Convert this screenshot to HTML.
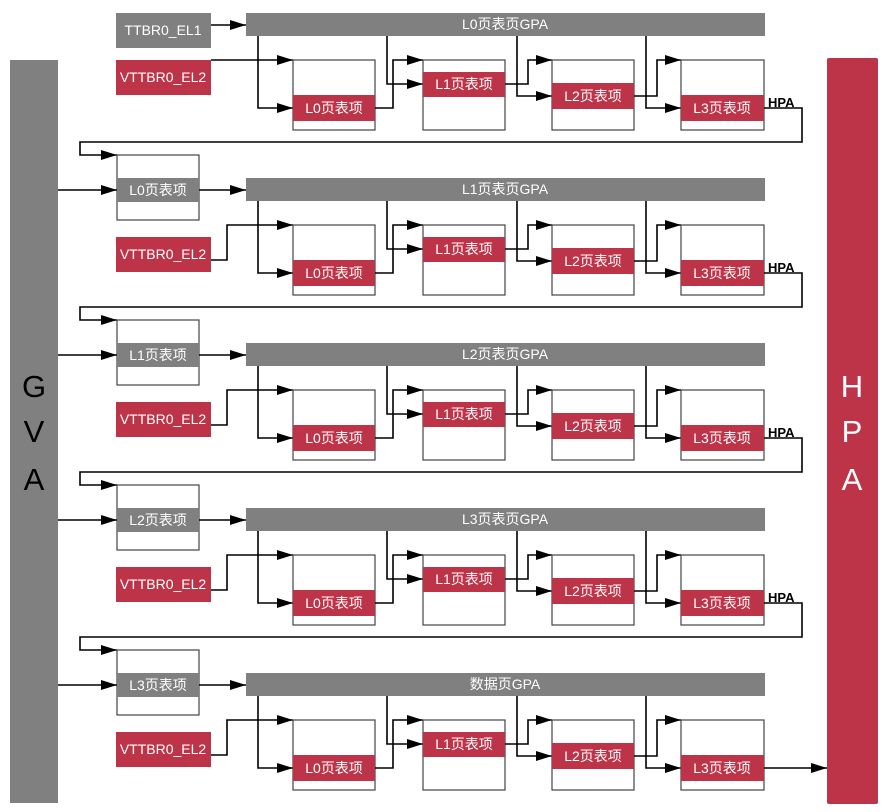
<!DOCTYPE html>
<html><head><meta charset="utf-8"><style>
html,body{margin:0;padding:0;background:#fff;}
svg{display:block;}
text{font-family:"Liberation Sans","Noto Sans CJK SC",sans-serif;}
.w{fill:#fff;font-size:14px;text-anchor:middle;}
.ln{fill:none;stroke:#000;stroke-width:1.6;}
.bx{fill:#fff;stroke:#444;stroke-width:1.2;}
.g{fill:#808080;}
.r{fill:#bd3449;}
</style></head><body>
<svg width="895" height="812" viewBox="0 0 895 812" xmlns="http://www.w3.org/2000/svg">
<defs>
<marker id="a" markerWidth="16" markerHeight="10" refX="16" refY="5" orient="auto" markerUnits="userSpaceOnUse">
<polygon points="0,0 16,5 0,10" fill="#000"/>
</marker>
</defs>
<rect x="10" y="60" width="48" height="743" class="g"/>
<text x="34" y="397" font-size="31" text-anchor="middle" fill="#000">G</text>
<text x="34" y="442" font-size="31" text-anchor="middle" fill="#000">V</text>
<text x="34" y="490" font-size="31" text-anchor="middle" fill="#000">A</text>
<rect x="827" y="58" width="51" height="746" rx="2" class="r"/>
<text x="852" y="397" font-size="31" text-anchor="middle" fill="#fff">H</text>
<text x="852" y="442" font-size="31" text-anchor="middle" fill="#fff">P</text>
<text x="852" y="490" font-size="31" text-anchor="middle" fill="#fff">A</text>

<g>
<rect x="116" y="13" width="95" height="35" class="g"/>
<text x="163" y="35" class="w">TTBR0_EL1</text>
<path d="M211,25 H246" class="ln" marker-end="url(#a)"/>
<rect x="116" y="60" width="95" height="35" class="r"/>
<text x="163" y="82" class="w">VTTBR0_EL2</text>
<path d="M211,60 H293" class="ln" marker-end="url(#a)"/>
</g>

<g transform="translate(0,0)">
<rect x="246" y="13" width="519" height="23" class="g"/><text x="505" y="29" class="w">L0页表页GPA</text>
<path d="M258,36 V108 H293" class="ln" marker-end="url(#a)"/>
<rect x="293" y="60" width="82" height="70" class="bx"/><rect x="293" y="95" width="82" height="26" class="r"/><text x="334" y="113" class="w">L0页表项</text>
<path d="M375,108 H393 V60 H423" class="ln" marker-end="url(#a)"/>
<path d="M387,36 V84 H423" class="ln" marker-end="url(#a)"/>
<rect x="423" y="60" width="82" height="70" class="bx"/><rect x="423" y="72" width="82" height="25" class="r"/><text x="464" y="89" class="w">L1页表项</text>
<path d="M505,84 H528 V60 H552" class="ln" marker-end="url(#a)"/>
<path d="M517,36 V96 H552" class="ln" marker-end="url(#a)"/>
<rect x="552" y="60" width="82" height="70" class="bx"/><rect x="552" y="83" width="82" height="26" class="r"/><text x="593" y="101" class="w">L2页表项</text>
<path d="M634,96 H657 V60 H681" class="ln" marker-end="url(#a)"/>
<path d="M646,36 V108 H681" class="ln" marker-end="url(#a)"/>
<rect x="681" y="60" width="83" height="70" class="bx"/><rect x="681" y="95" width="83" height="26" class="r"/><text x="722" y="113" class="w">L3页表项</text>
<path d="M764,108 H802 V142 H80 V155 H117" class="ln" marker-end="url(#a)"/>
<text x="768" y="107" font-size="13" font-weight="bold" fill="#000">HPA</text>
</g>

<g transform="translate(0,165)">
<rect x="117" y="-10" width="82" height="65" class="bx"/><rect x="117" y="13" width="82" height="24" class="g"/><text x="158" y="30" class="w">L0页表项</text>
<path d="M58,25 H117" class="ln" marker-end="url(#a)"/><path d="M199,25 H246" class="ln" marker-end="url(#a)"/>
<rect x="116" y="72" width="95" height="35" class="r"/><text x="163" y="94" class="w">VTTBR0_EL2</text>
<path d="M211,95 H227 V60 H293" class="ln" marker-end="url(#a)"/>
<rect x="246" y="13" width="519" height="23" class="g"/><text x="505" y="29" class="w">L1页表页GPA</text>
<path d="M258,36 V108 H293" class="ln" marker-end="url(#a)"/>
<rect x="293" y="60" width="82" height="70" class="bx"/><rect x="293" y="95" width="82" height="26" class="r"/><text x="334" y="113" class="w">L0页表项</text>
<path d="M375,108 H393 V60 H423" class="ln" marker-end="url(#a)"/><path d="M387,36 V84 H423" class="ln" marker-end="url(#a)"/>
<rect x="423" y="60" width="82" height="70" class="bx"/><rect x="423" y="72" width="82" height="25" class="r"/><text x="464" y="89" class="w">L1页表项</text>
<path d="M505,84 H528 V60 H552" class="ln" marker-end="url(#a)"/><path d="M517,36 V96 H552" class="ln" marker-end="url(#a)"/>
<rect x="552" y="60" width="82" height="70" class="bx"/><rect x="552" y="83" width="82" height="26" class="r"/><text x="593" y="101" class="w">L2页表项</text>
<path d="M634,96 H657 V60 H681" class="ln" marker-end="url(#a)"/><path d="M646,36 V108 H681" class="ln" marker-end="url(#a)"/>
<rect x="681" y="60" width="83" height="70" class="bx"/><rect x="681" y="95" width="83" height="26" class="r"/><text x="722" y="113" class="w">L3页表项</text>
<path d="M764,108 H802 V142 H80 V155 H117" class="ln" marker-end="url(#a)"/>
<text x="768" y="107" font-size="13" font-weight="bold" fill="#000">HPA</text>
</g>

<g transform="translate(0,330)">
<rect x="117" y="-10" width="82" height="65" class="bx"/><rect x="117" y="13" width="82" height="24" class="g"/><text x="158" y="30" class="w">L1页表项</text>
<path d="M58,25 H117" class="ln" marker-end="url(#a)"/><path d="M199,25 H246" class="ln" marker-end="url(#a)"/>
<rect x="116" y="72" width="95" height="35" class="r"/><text x="163" y="94" class="w">VTTBR0_EL2</text>
<path d="M211,95 H227 V60 H293" class="ln" marker-end="url(#a)"/>
<rect x="246" y="13" width="519" height="23" class="g"/><text x="505" y="29" class="w">L2页表页GPA</text>
<path d="M258,36 V108 H293" class="ln" marker-end="url(#a)"/>
<rect x="293" y="60" width="82" height="70" class="bx"/><rect x="293" y="95" width="82" height="26" class="r"/><text x="334" y="113" class="w">L0页表项</text>
<path d="M375,108 H393 V60 H423" class="ln" marker-end="url(#a)"/><path d="M387,36 V84 H423" class="ln" marker-end="url(#a)"/>
<rect x="423" y="60" width="82" height="70" class="bx"/><rect x="423" y="72" width="82" height="25" class="r"/><text x="464" y="89" class="w">L1页表项</text>
<path d="M505,84 H528 V60 H552" class="ln" marker-end="url(#a)"/><path d="M517,36 V96 H552" class="ln" marker-end="url(#a)"/>
<rect x="552" y="60" width="82" height="70" class="bx"/><rect x="552" y="83" width="82" height="26" class="r"/><text x="593" y="101" class="w">L2页表项</text>
<path d="M634,96 H657 V60 H681" class="ln" marker-end="url(#a)"/><path d="M646,36 V108 H681" class="ln" marker-end="url(#a)"/>
<rect x="681" y="60" width="83" height="70" class="bx"/><rect x="681" y="95" width="83" height="26" class="r"/><text x="722" y="113" class="w">L3页表项</text>
<path d="M764,108 H802 V142 H80 V155 H117" class="ln" marker-end="url(#a)"/>
<text x="768" y="107" font-size="13" font-weight="bold" fill="#000">HPA</text>
</g>

<g transform="translate(0,495)">
<rect x="117" y="-10" width="82" height="65" class="bx"/><rect x="117" y="13" width="82" height="24" class="g"/><text x="158" y="30" class="w">L2页表项</text>
<path d="M58,25 H117" class="ln" marker-end="url(#a)"/><path d="M199,25 H246" class="ln" marker-end="url(#a)"/>
<rect x="116" y="72" width="95" height="35" class="r"/><text x="163" y="94" class="w">VTTBR0_EL2</text>
<path d="M211,95 H227 V60 H293" class="ln" marker-end="url(#a)"/>
<rect x="246" y="13" width="519" height="23" class="g"/><text x="505" y="29" class="w">L3页表页GPA</text>
<path d="M258,36 V108 H293" class="ln" marker-end="url(#a)"/>
<rect x="293" y="60" width="82" height="70" class="bx"/><rect x="293" y="95" width="82" height="26" class="r"/><text x="334" y="113" class="w">L0页表项</text>
<path d="M375,108 H393 V60 H423" class="ln" marker-end="url(#a)"/><path d="M387,36 V84 H423" class="ln" marker-end="url(#a)"/>
<rect x="423" y="60" width="82" height="70" class="bx"/><rect x="423" y="72" width="82" height="25" class="r"/><text x="464" y="89" class="w">L1页表项</text>
<path d="M505,84 H528 V60 H552" class="ln" marker-end="url(#a)"/><path d="M517,36 V96 H552" class="ln" marker-end="url(#a)"/>
<rect x="552" y="60" width="82" height="70" class="bx"/><rect x="552" y="83" width="82" height="26" class="r"/><text x="593" y="101" class="w">L2页表项</text>
<path d="M634,96 H657 V60 H681" class="ln" marker-end="url(#a)"/><path d="M646,36 V108 H681" class="ln" marker-end="url(#a)"/>
<rect x="681" y="60" width="83" height="70" class="bx"/><rect x="681" y="95" width="83" height="26" class="r"/><text x="722" y="113" class="w">L3页表项</text>
<path d="M764,108 H802 V142 H80 V155 H117" class="ln" marker-end="url(#a)"/>
<text x="768" y="107" font-size="13" font-weight="bold" fill="#000">HPA</text>
</g>

<g transform="translate(0,660)">
<rect x="117" y="-10" width="82" height="65" class="bx"/><rect x="117" y="13" width="82" height="24" class="g"/><text x="158" y="30" class="w">L3页表项</text>
<path d="M58,25 H117" class="ln" marker-end="url(#a)"/><path d="M199,25 H246" class="ln" marker-end="url(#a)"/>
<rect x="116" y="72" width="95" height="35" class="r"/><text x="163" y="94" class="w">VTTBR0_EL2</text>
<path d="M211,95 H227 V60 H293" class="ln" marker-end="url(#a)"/>
<rect x="246" y="13" width="519" height="23" class="g"/><text x="505" y="29" class="w">数据页GPA</text>
<path d="M258,36 V108 H293" class="ln" marker-end="url(#a)"/>
<rect x="293" y="60" width="82" height="70" class="bx"/><rect x="293" y="95" width="82" height="26" class="r"/><text x="334" y="113" class="w">L0页表项</text>
<path d="M375,108 H393 V60 H423" class="ln" marker-end="url(#a)"/><path d="M387,36 V84 H423" class="ln" marker-end="url(#a)"/>
<rect x="423" y="60" width="82" height="70" class="bx"/><rect x="423" y="72" width="82" height="25" class="r"/><text x="464" y="89" class="w">L1页表项</text>
<path d="M505,84 H528 V60 H552" class="ln" marker-end="url(#a)"/><path d="M517,36 V96 H552" class="ln" marker-end="url(#a)"/>
<rect x="552" y="60" width="82" height="70" class="bx"/><rect x="552" y="83" width="82" height="26" class="r"/><text x="593" y="101" class="w">L2页表项</text>
<path d="M634,96 H657 V60 H681" class="ln" marker-end="url(#a)"/><path d="M646,36 V108 H681" class="ln" marker-end="url(#a)"/>
<rect x="681" y="60" width="83" height="70" class="bx"/><rect x="681" y="95" width="83" height="26" class="r"/><text x="722" y="113" class="w">L3页表项</text>
<path d="M764,108 H827" class="ln" marker-end="url(#a)"/>
</g>
</svg>
</body></html>
